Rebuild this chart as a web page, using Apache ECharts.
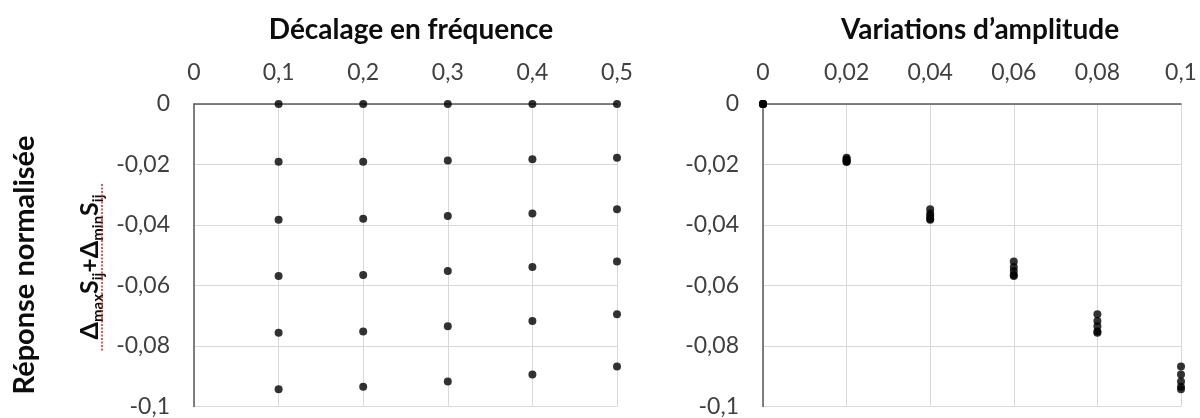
<!DOCTYPE html>
<html>
<head>
<meta charset="utf-8">
<script src="https://cdn.jsdelivr.net/npm/echarts@6/dist/echarts.min.js"></script>
<style>
  html, body { margin: 0; padding: 0; background: #fff; }
  #main { width: 1200px; height: 418px; }
</style>
</head>
<body>
<div id="main"></div>
<script>
"use strict"
// frequency shifts (left chart x) and amplitude variations (right chart x)
var freqShift = [0.1, 0.2, 0.3, 0.4, 0.5];
var amplitude = [0, 0.02, 0.04, 0.06, 0.08, 0.1];

// normalised response, one row per frequency shift, one value per amplitude
var resp01 = [0, -0.0191, -0.0383, -0.0569, -0.0756, -0.0943];
var resp02 = [0, -0.0191, -0.0379, -0.0565, -0.0752, -0.0935];
var resp03 = [0, -0.0187, -0.0370, -0.0552, -0.0735, -0.0917];
var resp04 = [0, -0.0183, -0.0362, -0.0539, -0.0717, -0.0894];
var resp05 = [0, -0.0178, -0.0348, -0.0521, -0.0695, -0.0868];
var response = [resp01, resp02, resp03, resp04, resp05];

var leftTicks = { min: 0, max: 0.5, interval: 0.1 };
var rightTicks = { min: 0, max: 0.1, interval: 0.02 };
var yTicks = { min: -0.1, max: 0, interval: 0.02 };

var byFreq = [];
var byAmp = [];
for (var i = 0; i < freqShift.length; i++) {
  for (var j = 0; j < amplitude.length; j++) {
    byFreq.push([freqShift[i], response[i][j]]);
    byAmp.push([amplitude[j], response[i][j]]);
  }
}

var font = 'Lato, "Open Sans", sans-serif';
var comma = function (v) { return String(+v.toFixed(4)).replace('.', ','); };

function xAxisOf(idx, t) {
  return {
    gridIndex: idx, type: 'value', position: 'top',
    min: t.min, max: t.max, interval: t.interval,
    axisLine: { show: true, onZero: false, lineStyle: { color: '#595959', width: 1.5 } },
    axisTick: { show: false },
    axisLabel: { margin: 20, fontSize: 23, fontFamily: font, color: '#404040', formatter: comma },
    splitLine: { show: true, lineStyle: { color: '#d9d9d9', width: 1 } }
  };
}
function yAxisOf(idx) {
  return {
    gridIndex: idx, type: 'value',
    min: yTicks.min, max: yTicks.max, interval: yTicks.interval,
    axisLine: { show: true, onZero: false, lineStyle: { color: '#595959', width: 1.5 } },
    axisTick: { show: false },
    axisLabel: { margin: 24, fontSize: 23, fontFamily: font, color: '#404040', formatter: comma },
    splitLine: { show: true, lineStyle: { color: '#d9d9d9', width: 1 } }
  };
}

var option = {
  backgroundColor: '#fff',
  animation: false,
  title: [{
    text: 'Décalage en fréquence', left: 406, top: 11, textAlign: 'center',
    textStyle: { fontFamily: font, fontWeight: 'bold', fontSize: 28, color: '#0d0d0d' }
  }, {
    text: 'Variations d’amplitude', left: 975, top: 11, textAlign: 'center',
    textStyle: { fontFamily: font, fontWeight: 'bold', fontSize: 28, color: '#0d0d0d' }
  }],
  grid: [
    { left: 194, top: 104, width: 423, height: 304 },
    { left: 763, top: 104, width: 418, height: 304 }
  ],
  xAxis: [xAxisOf(0, leftTicks), xAxisOf(1, rightTicks)],
  yAxis: [yAxisOf(0), yAxisOf(1)],
  graphic: [{
    type: 'text', x: 25, y: 265, rotation: Math.PI / 2,
    style: {
      text: 'Réponse normalisée', fill: '#0d0d0d',
      font: 'bold 29px ' + font, align: 'center', verticalAlign: 'middle'
    }
  }, {
    type: 'text', x: 90, y: 267, rotation: Math.PI / 2,
    style: {
      text: '{a|Δ}{s|max}{a|S}{s|ij}{a|+Δ}{s|min}{a|S}{s|ij}',
      align: 'center', verticalAlign: 'middle',
      rich: {
        a: { font: 'bold 25px ' + font, fill: '#0d0d0d', verticalAlign: 'bottom' },
        s: { font: 'bold 15px ' + font, fill: '#0d0d0d', verticalAlign: 'bottom', padding: [0, 0, -3, 0] }
      }
    }
  }, {
    type: 'line', z: 10,
    shape: { x1: 102, y1: 184, x2: 102, y2: 351 },
    style: { stroke: '#e02020', lineWidth: 1.5, lineDash: [2, 1.5] }
  }],
  series: [{
    type: 'scatter', xAxisIndex: 0, yAxisIndex: 0,
    symbol: 'circle', symbolSize: 8,
    itemStyle: { color: '#000' },
    data: byFreq
  }, {
    type: 'scatter', xAxisIndex: 1, yAxisIndex: 1,
    symbol: 'circle', symbolSize: 8,
    itemStyle: { color: '#000' },
    data: byAmp
  }]
};

var chart = echarts.init(document.getElementById('main'));
chart.setOption(option);
</script>
</body>
</html>
